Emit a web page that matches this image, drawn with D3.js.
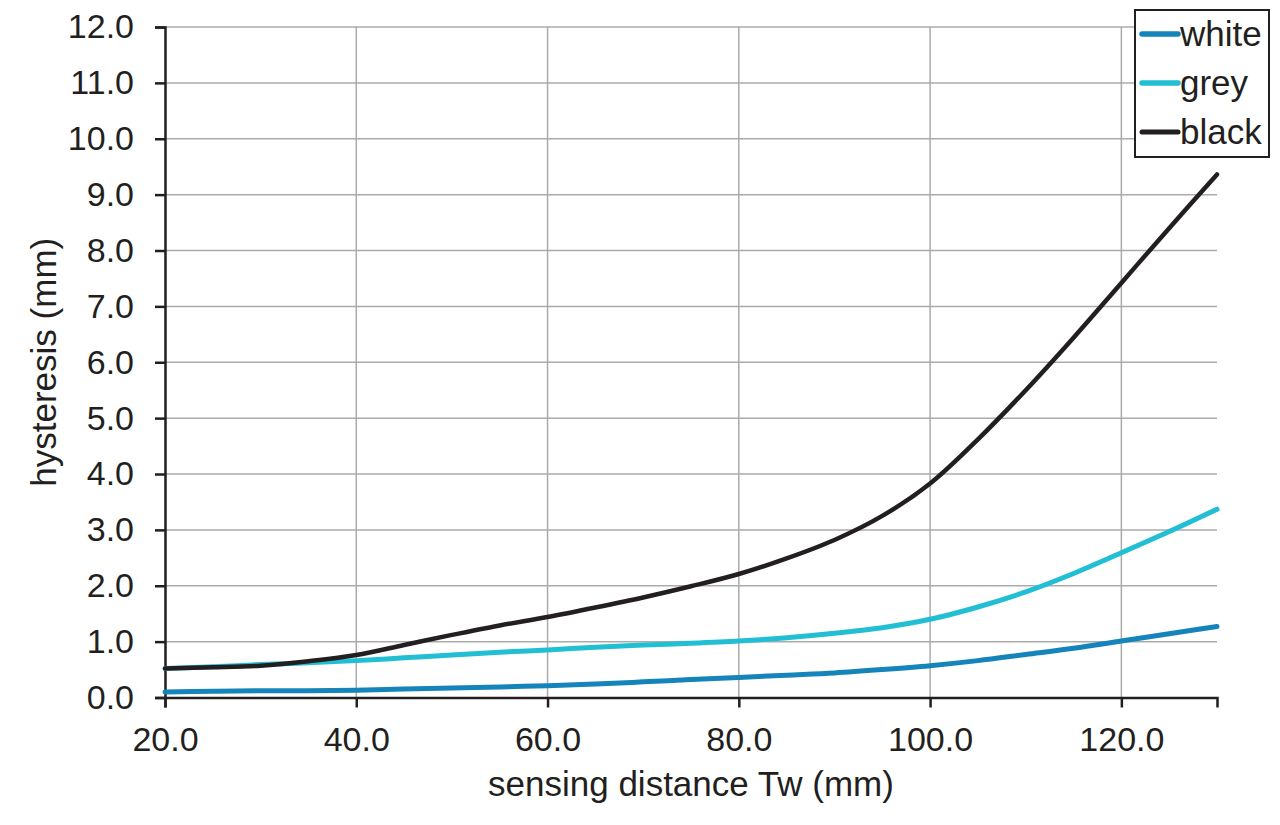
<!DOCTYPE html>
<html>
<head>
<meta charset="utf-8">
<script src="https://cdn.jsdelivr.net/npm/d3@7"></script>
<style>
  body { margin: 0; background: #fff; }
  text { font-family: "Liberation Sans", Arial, sans-serif; fill: #231f20; }
</style>
</head>
<body>
<svg id="chart" width="1280" height="825"></svg>
<script>
// sensing distance (mm)
const distances = [20, 25, 30, 35, 40, 45, 50, 55, 60, 65, 70, 75, 80, 85, 90, 95, 100, 105, 110, 115, 120, 125, 130];

// hysteresis (mm) per target colour
const whiteValues = [0.10, 0.11, 0.12, 0.12, 0.13, 0.15, 0.17, 0.19, 0.21, 0.24, 0.28, 0.32, 0.36, 0.40, 0.44, 0.50, 0.57, 0.66, 0.77, 0.88, 1.01, 1.14, 1.27];
const greyValues  = [0.52, 0.55, 0.59, 0.62, 0.66, 0.71, 0.76, 0.81, 0.85, 0.90, 0.94, 0.97, 1.01, 1.07, 1.15, 1.25, 1.40, 1.62, 1.89, 2.22, 2.59, 2.97, 3.37];
const blackValues = [0.52, 0.54, 0.57, 0.65, 0.76, 0.94, 1.12, 1.29, 1.44, 1.61, 1.79, 1.99, 2.21, 2.49, 2.82, 3.25, 3.83, 4.62, 5.50, 6.44, 7.42, 8.40, 9.36];

const seriesNames = ["white", "grey", "black"];
const xTicks = [20, 40, 60, 80, 100, 120];
const yTicks = d3.range(0, 13, 1);

const series = [
  { name: "white", values: whiteValues, color: "#1584ba", width: 5 },
  { name: "grey",  values: greyValues,  color: "#22bfd4", width: 5 },
  { name: "black", values: blackValues, color: "#231f20", width: 4.5 }
];

const margin = { top: 27, right: 63, bottom: 127.5, left: 165 };
const width = 1280, height = 825;

const svg = d3.select("#chart");

const x = d3.scaleLinear().domain([20, 130]).range([margin.left, width - margin.right]);
const y = d3.scaleLinear().domain([0, 12]).range([height - margin.bottom, margin.top]);

// grid
svg.append("g")
  .selectAll("line.h")
  .data(yTicks.filter(d => d > 0))
  .join("line")
    .attr("x1", x(20)).attr("x2", x(130))
    .attr("y1", d => y(d)).attr("y2", d => y(d))
    .attr("stroke", "#ababab").attr("stroke-width", 1.5);

svg.append("g")
  .selectAll("line.v")
  .data(xTicks.filter(d => d > 20))
  .join("line")
    .attr("x1", d => x(d)).attr("x2", d => x(d))
    .attr("y1", y(0)).attr("y2", y(12))
    .attr("stroke", "#ababab").attr("stroke-width", 1.5);

// axes
const xAxis = svg.append("g")
  .attr("transform", `translate(0,${y(0)})`)
  .call(d3.axisBottom(x).tickValues(xTicks).tickSize(10).tickPadding(19).tickFormat(d3.format(".1f")));

const yAxis = svg.append("g")
  .attr("transform", `translate(${x(20)},0)`)
  .call(d3.axisLeft(y).tickValues(yTicks).tickSize(10).tickPadding(21).tickFormat(d3.format(".1f")));

[xAxis, yAxis].forEach(a => {
  a.select(".domain").attr("stroke", "#231f20").attr("stroke-width", 2.5);
  a.selectAll(".tick line").attr("stroke", "#231f20").attr("stroke-width", 2.5);
  a.selectAll(".tick text").attr("font-size", 34).attr("fill", "#231f20")
    .style("font-family", "'Liberation Sans', Arial, sans-serif");
});
xAxis.selectAll(".tick text").attr("dy", "0.71em");

// lines
const line = d3.line()
  .x((d, i) => x(distances[i]))
  .y(d => y(d))
  .curve(d3.curveCatmullRom.alpha(0.5));

svg.append("g")
  .selectAll("path")
  .data(series)
  .join("path")
    .attr("d", s => line(s.values))
    .attr("fill", "none")
    .attr("stroke", s => s.color)
    .attr("stroke-width", s => s.width)
    .attr("stroke-linecap", "round")
    .attr("stroke-linejoin", "round");

// axis titles
svg.append("text")
  .attr("x", (x(20) + x(130)) / 2)
  .attr("y", 796)
  .attr("text-anchor", "middle")
  .attr("font-size", 35)
  .text("sensing distance Tw (mm)");

svg.append("text")
  .attr("transform", `translate(56,${(y(0) + y(12)) / 2}) rotate(-90)`)
  .attr("text-anchor", "middle")
  .attr("font-size", 35)
  .text("hysteresis (mm)");

// legend
const legend = svg.append("g");
legend.append("rect")
  .attr("x", 1135).attr("y", 10)
  .attr("width", 134).attr("height", 147)
  .attr("fill", "#fff").attr("stroke", "#231f20").attr("stroke-width", 2);

const items = legend.selectAll("g.item")
  .data(series)
  .join("g")
    .attr("transform", (d, i) => `translate(0,${34 + i * 49})`);

items.append("line")
  .attr("x1", 1142).attr("x2", 1178)
  .attr("stroke", d => d.color)
  .attr("stroke-width", d => d.width + 0.5)
  .attr("stroke-linecap", "round");

items.append("text")
  .attr("x", 1180).attr("dy", "0.35em")
  .attr("font-size", 35)
  .text((d, i) => seriesNames[i]);
</script>
</body>
</html>
